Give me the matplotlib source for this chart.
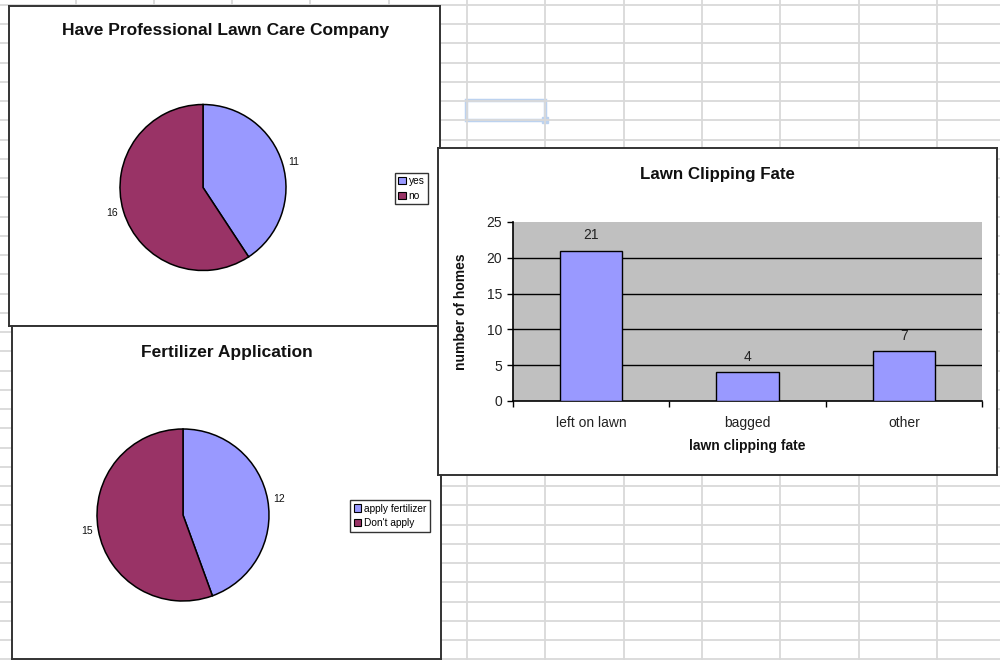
import numpy as np
import matplotlib.pyplot as plt
from matplotlib.patches import Rectangle

plt.rcParams['font.family'] = ['Liberation Sans', 'DejaVu Sans']

W, H = 1000, 660

# chart data
care_labels = ['yes', 'no']
care_counts = [11, 16]
fert_labels = ['apply fertilizer', "Don't apply"]
fert_counts = [12, 15]
fate_names = ['left on lawn', 'bagged', 'other']
fate_counts = [21, 4, 7]

blue = '#9999ff'
plum = '#993366'
edge = '#333333'


def rect(x0, y0, x1, y1):
    # pixel box (top-left origin) -> figure fraction
    return [x0 / W, 1 - y1 / H, (x1 - x0) / W, (y1 - y0) / H]


def frame(box, z):
    f = fig.add_axes(rect(*box), zorder=z)
    f.set_xticks([])
    f.set_yticks([])
    f.set_facecolor('white')
    for s in f.spines.values():
        s.set_color(edge)
        s.set_linewidth(1.4)
    return f


def pie_chart(cx, cy, r, counts, z):
    a = fig.add_axes(rect(cx - 1.25 * r, cy - 1.25 * r, cx + 1.25 * r, cy + 1.25 * r), zorder=z)
    wedges, texts = a.pie(counts, labels=[str(c) for c in counts], colors=[blue, plum],
                          startangle=90, counterclock=False, labeldistance=1.07,
                          wedgeprops=dict(edgecolor='black', linewidth=1.1),
                          textprops=dict(fontsize=7.5, color='#111111'))
    a.set_xlim(-1.25, 1.25)
    a.set_ylim(-1.25, 1.25)
    return a, wedges


def small_legend(a, wedges, labels, cx, cy):
    leg = a.legend(wedges, labels, loc='center', bbox_to_anchor=(cx / W, 1 - cy / H),
                   bbox_transform=fig.transFigure, fontsize=7.3, frameon=True, fancybox=False,
                   edgecolor='black', borderpad=0.35, labelspacing=0.45,
                   handlelength=0.75, handleheight=0.75, handletextpad=0.25, borderaxespad=0)
    leg.get_frame().set_linewidth(1.0)
    for p in leg.get_patches():
        p.set_edgecolor('black')
        p.set_linewidth(0.8)


fig = plt.figure(figsize=(10, 6.6), dpi=100)

# spreadsheet grid behind the charts
bg = fig.add_axes([0, 0, 1, 1], zorder=0)
bg.set_xlim(0, W)
bg.set_ylim(H, 0)
bg.axis('off')
for x in np.arange(467 - 78.3 * 6, W, 78.3):
    bg.axvline(x, color='#d9d9d9', lw=1.3)
for y in np.arange(640 + 19.25, 0, -19.25):
    bg.axhline(y, color='#d9d9d9', lw=1.3)
bg.add_patch(Rectangle((466, 100), 79, 20, fill=False, ec='#bcd2ef', lw=2.5))
bg.add_patch(Rectangle((541.5, 116.5), 6, 6, color='#bcd2ef'))

# top-left pie
frame((9, 6, 440, 326), 1)
fig.text(225.5 / W, 1 - 31 / H, 'Have Professional Lawn Care Company', ha='center', va='center',
         fontsize=12.5, fontweight='bold', color='#111111', zorder=3)
pa, pw = pie_chart(203, 187.5, 83, care_counts, 2)
small_legend(pa, pw, care_labels, 411.5, 188.5)

# bottom-left pie
frame((12, 326, 441, 659), 3)
fig.text(226.5 / W, 1 - 352 / H, 'Fertilizer Application', ha='center', va='center',
         fontsize=12.5, fontweight='bold', color='#111111', zorder=5)
pb, pbw = pie_chart(183, 515, 86, fert_counts, 4)
small_legend(pb, pbw, fert_labels, 390, 516)

# bar chart
frame((438, 148, 997, 475), 5)
fig.text(717 / W, 1 - 174 / H, 'Lawn Clipping Fate', ha='center', va='center',
         fontsize=12.2, fontweight='bold', color='#111111', zorder=7)
ax = fig.add_axes(rect(513, 222, 982, 401), zorder=6)
ax.set_facecolor('#c0c0c0')
pos = np.arange(len(fate_names))
bars = ax.bar(pos, fate_counts, width=0.4, color=blue, edgecolor='black', linewidth=1, zorder=3)
ax.set_xlim(-0.5, len(fate_names) - 0.5)
ax.set_ylim(0, 25)
ax.set_yticks(range(0, 26, 5))
for t in range(5, 25, 5):
    ax.axhline(t, color='black', lw=1, zorder=1)
ax.set_xticks(np.arange(len(fate_names) + 1) - 0.5)
ax.set_xticklabels([])
ax.set_xticks(pos, minor=True)
ax.set_xticklabels(fate_names, minor=True)
ax.tick_params(axis='x', which='minor', length=0, pad=10.5, labelsize=10, labelcolor='#222222')
ax.tick_params(axis='both', which='major', direction='out', length=4, width=1,
               labelsize=10, labelcolor='#222222', pad=4)
for s in ['top', 'right']:
    ax.spines[s].set_visible(False)
for s in ['left', 'bottom']:
    ax.spines[s].set_linewidth(1.2)
ax.bar_label(bars, padding=6, fontsize=10, color='#222222')
ax.set_ylabel('number of homes', fontsize=10, fontweight='bold', color='#111111')
ax.set_xlabel('lawn clipping fate', fontsize=10, fontweight='bold', color='#111111')
ax.yaxis.set_label_coords((468 - 513) / 469, 0.5)
ax.xaxis.set_label_coords(0.5, (401 - 439) / 179)

fig.savefig('out.png', dpi=100)
